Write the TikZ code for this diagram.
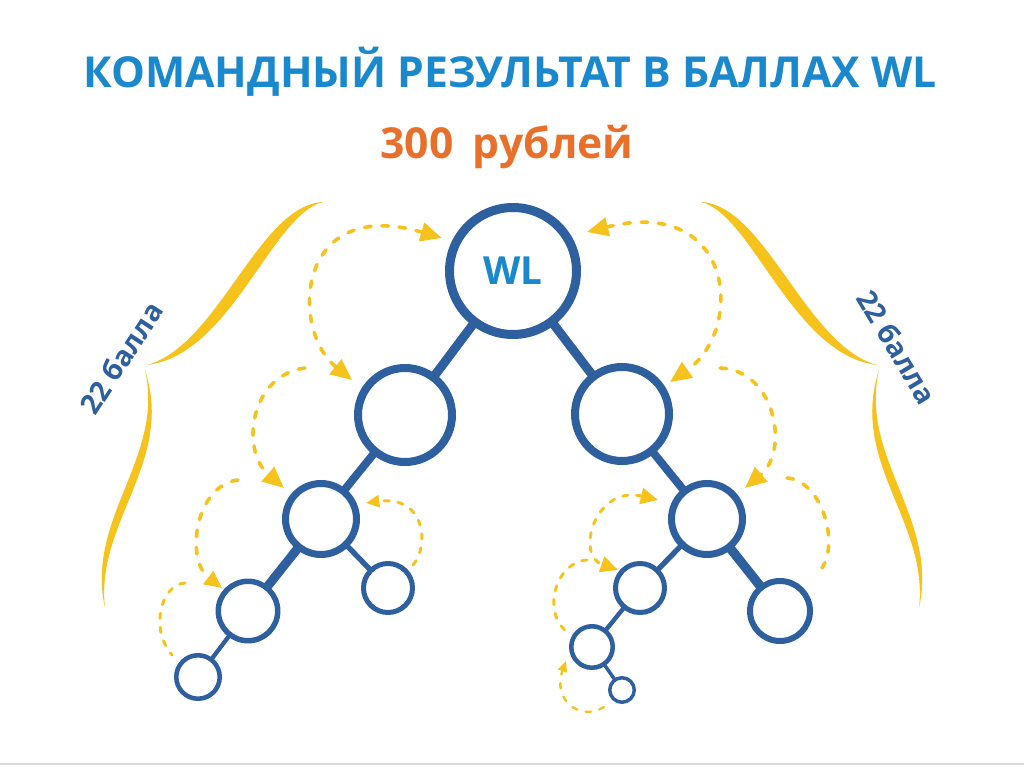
\documentclass[tikz,border=0pt]{standalone}
\usepackage{fontspec}
\setmainfont{Open Sans}
\usetikzlibrary{arrows.meta,backgrounds}
\definecolor{nodeblue}{HTML}{2E5F9E}
\definecolor{titleblue}{HTML}{1A88CC}
\definecolor{gold}{HTML}{F6C21C}
\definecolor{orng}{HTML}{E8702A}
\begin{document}
\begin{tikzpicture}[x=0.75pt,y=-0.75pt,
  tn/.style={circle,draw=nodeblue,fill=white,inner sep=0pt},
  edge/.style={draw=nodeblue,line cap=butt},
  darc/.style={draw=gold,dash pattern=on 5pt off 8pt,line cap=round,line width=2.7pt},
  sarc/.style={draw=gold,dash pattern=on 4pt off 6.5pt,line cap=round,line width=2.2pt},
  bigtip/.tip={Triangle[length=16pt,width=14pt,fill=gold,color=gold]},
  midtip/.tip={Triangle[length=13pt,width=12pt,fill=gold,color=gold]},
  smalltip/.tip={Triangle[length=10pt,width=9pt,fill=gold,color=gold]},
  tinytip/.tip={Triangle[length=8pt,width=7pt,fill=gold,color=gold]},
  brace/.style={fill=gold},
  pts/.style={text=nodeblue,font=\bfseries\fontsize{21}{25}\selectfont,inner sep=0pt}]
\useasboundingbox (0,0) rectangle (1024,767);
\draw[gray!30,line width=1.2pt] (0,764) -- (1024,764);

% titles
\node[anchor=base,text=titleblue,font=\bfseries\fontsize{32}{38}\selectfont] (title) at (510,88) {КОМАНДНЫЙ РЕЗУЛЬТАТ В БАЛЛАХ WL};
\node[anchor=base,text=orng,font=\bfseries\fontsize{32}{38}\selectfont] (price) at (507,158) {300\hspace{0.45em}рублей};

% tree nodes
\node[tn,line width=6.75pt,minimum size=95.25pt,text=titleblue,font=\bfseries\fontsize{29}{34}\selectfont] (root) at (513,271) {WL};
\node[tn,line width=6pt,minimum size=70.5pt] (l1) at (405,415) {};
\node[tn,line width=6pt,minimum size=70.5pt] (r1) at (622,414) {};
\node[tn,line width=5.25pt,minimum size=53.25pt] (l2) at (321,519) {};
\node[tn,line width=5.25pt,minimum size=53.25pt] (r2) at (707,519) {};
\node[tn,line width=3.75pt,minimum size=36.75pt] (l2b) at (388,588) {};
\node[tn,line width=4.1pt,minimum size=44.6pt] (l3) at (248,611) {};
\node[tn,line width=3.4pt,minimum size=32.6pt] (l4) at (198,677) {};
\node[tn,line width=4.5pt,minimum size=45pt] (r2b) at (780,611) {};
\node[tn,line width=3.75pt,minimum size=36.75pt] (r3) at (640,588) {};
\node[tn,line width=3.4pt,minimum size=31.1pt] (r4) at (592,647) {};
\node[tn,line width=2.6pt,minimum size=18.4pt] (r5) at (622,690) {};

\begin{scope}[on background layer]
\draw[edge,line width=6.75pt] (root.center) -- (l1.center);
\draw[edge,line width=6.75pt] (root.center) -- (r1.center);
\draw[edge,line width=6pt] (l1.center) -- (l2.center);
\draw[edge,line width=6pt] (r1.center) -- (r2.center);
\draw[edge,line width=6.75pt] (l2.center) -- (l3.center);
\draw[edge,line width=4pt] (l2.center) -- (l2b.center);
\draw[edge,line width=3.2pt] (l3.center) -- (l4.center);
\draw[edge,line width=4pt] (r2.center) -- (r3.center);
\draw[edge,line width=7pt] (r2.center) -- (r2b.center);
\draw[edge,line width=3.3pt] (r3.center) -- (r4.center);
\draw[edge,line width=2.6pt] (r4.center) -- (r5.center);
\end{scope}

% dashed arcs, left chain
\coordinate (a0) at (442,238); \coordinate (a1) at (352,380);
\draw[darc,bigtip-bigtip] (a0) .. controls (295,195) and (290,330) .. (a1);
\coordinate (b0) at (305,368); \coordinate (b1) at (284,488);
\draw[darc,-bigtip] (b0) .. controls (250,375) and (240,450) .. (b1);
\coordinate (c0) at (238,480); \coordinate (c1) at (222,588);
\draw[darc,-midtip] (c0) .. controls (195,485) and (185,560) .. (c1);
\coordinate (d0) at (185,583); \coordinate (d1) at (172,655);
\draw[sarc] (d0) .. controls (160,585) and (150,630) .. (d1);
\coordinate (e0) at (413,565); \coordinate (e1) at (366,503);
\draw[sarc,-smalltip] (e0) .. controls (430,545) and (425,495) .. (e1);

% dashed arcs, right chain
\coordinate (ra0) at (587,232); \coordinate (ra1) at (670,382);
\draw[darc,bigtip-bigtip] (ra0) .. controls (735,195) and (745,330) .. (ra1);
\coordinate (rb0) at (720,368); \coordinate (rb1) at (745,488);
\draw[darc,-bigtip] (rb0) .. controls (775,370) and (790,450) .. (rb1);
\coordinate (rc0) at (787,478); \coordinate (rc1) at (822,568);
\draw[darc] (rc0) .. controls (820,480) and (840,540) .. (rc1);
\coordinate (rd0) at (658,500); \coordinate (rd1) at (618,570);
\draw[sarc,midtip-midtip] (rd0) .. controls (595,485) and (575,555) .. (rd1);
\coordinate (re0) at (587,560); \coordinate (re1) at (570,634);
\draw[sarc] (re0) .. controls (555,562) and (540,615) .. (re1);
\coordinate (rf0) at (604,707); \coordinate (rf1) at (566,661);
\draw[sarc,line width=1.8pt,-tinytip] (rf0) .. controls (580,722) and (552,700) .. (rf1);

% braces
\begin{scope}
\fill[brace] (323,202) .. controls (271.4,214.8) and (231.4,354.8) .. (147,365)
  .. controls (218.6,345.2) and (258.6,205.2) .. (323,202) -- cycle;
\fill[brace] (145,370) .. controls (175,462) and (95,522) .. (105,608)
  .. controls (85,518) and (165,458) .. (145,370) -- cycle;
\end{scope}
\begin{scope}[shift={(1024,0)},xscale=-1]
\fill[brace] (323,202) .. controls (271.4,214.8) and (231.4,354.8) .. (147,365)
  .. controls (218.6,345.2) and (258.6,205.2) .. (323,202) -- cycle;
\fill[brace] (145,370) .. controls (175,462) and (95,522) .. (105,608)
  .. controls (85,518) and (165,458) .. (145,370) -- cycle;
\end{scope}

\node[pts,rotate=57] (ptl) at (121,358) {22 балла};
\node[pts,rotate=-59] (ptr) at (897,347) {22 балла};
\end{tikzpicture}
\end{document}
